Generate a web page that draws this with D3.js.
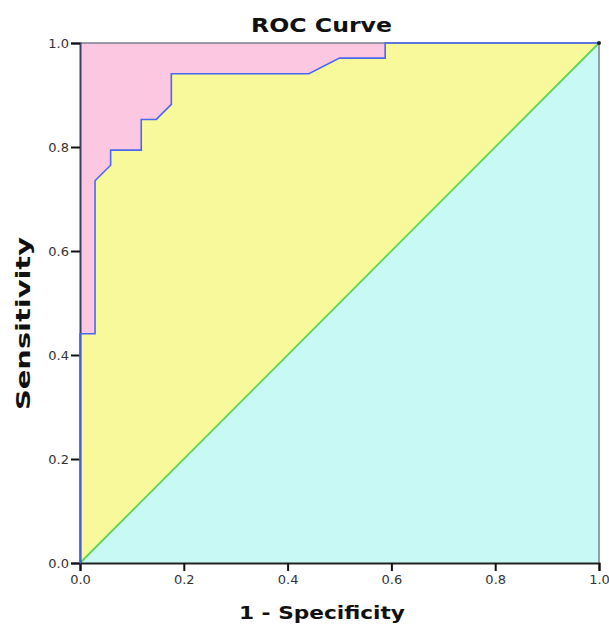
<!DOCTYPE html>
<html>
<head>
<meta charset="utf-8">
<script src="https://cdn.jsdelivr.net/npm/d3@7"></script>
<style>
body { margin:0; background:#fff; }
</style>
</head>
<body>
<div id="roc"></div>
<script>
// ROC curve steps (1 - specificity, sensitivity)
var fpr = [0, 0,     0.029, 0.029, 0.059, 0.059, 0.118, 0.118, 0.147, 0.176, 0.176, 0.441, 0.5,   0.588, 0.588, 1]
var tpr = [0, 0.441, 0.441, 0.735, 0.765, 0.794, 0.794, 0.853, 0.853, 0.882, 0.941, 0.941, 0.971, 0.971, 1,     1]
var diagX = [0, 1]
var diagY = [0, 1]
var tickVals = [0, 0.2, 0.4, 0.6, 0.8, 1.0]

var W = 609, H = 624
var margin = {top:43, right:10, bottom:61, left:80}
var width = W - margin.left - margin.right
var height = H - margin.top - margin.bottom

var svg = d3.select("#roc").append("svg")
    .attr("width", W).attr("height", H)

var g = svg.append("g")
    .attr("transform", "translate(" + margin.left + "," + margin.top + ")")

var x = d3.scaleLinear().domain([0, 1]).range([0, width])
var y = d3.scaleLinear().domain([0, 1]).range([height, 0])

var curve = fpr.map((v, i) => [v, tpr[i]])
var diag = diagX.map((v, i) => [v, diagY[i]])

// pink background = region above the curve
g.append("rect")
    .attr("x", x(0)).attr("y", y(1))
    .attr("width", x(1) - x(0)).attr("height", y(0) - y(1))
    .style("fill", "#fcc8e1")

// yellow under the curve
g.append("path").datum(curve)
    .attr("d", d3.area().x(d => x(d[0])).y0(y(0)).y1(d => y(d[1])))
    .style("fill", "#f8f99b")

// cyan under the reference line
g.append("path").datum(diag)
    .attr("d", d3.area().x(d => x(d[0])).y0(y(0)).y1(d => y(d[1])))
    .style("fill", "#c9f9f5")

// frame (top + right)
g.append("path")
    .attr("d", "M" + x(0) + "," + y(1) + "H" + x(1) + "V" + y(0))
    .style("fill", "none").style("stroke", "#7a7f90").style("stroke-width", 1.5)

// diagonal
g.append("path").datum(diag)
    .attr("d", d3.line().x(d => x(d[0])).y(d => y(d[1])))
    .style("fill", "none").style("stroke", "#5fd35a").style("stroke-width", 1.8)

// axes
var xAxis = g.append("g").attr("transform", "translate(0," + height + ")")
    .call(d3.axisBottom(x).tickValues(tickVals).tickFormat(d3.format(".1f")).tickSize(8).tickPadding(4))
var yAxis = g.append("g")
    .call(d3.axisLeft(y).tickValues(tickVals).tickFormat(d3.format(".1f")).tickSize(9).tickPadding(2))

g.selectAll(".domain").style("stroke", "#222").style("stroke-width", 2)
yAxis.select(".domain").style("stroke", "#3a3f66")
g.selectAll(".tick line").style("stroke", "#111").style("stroke-width", 2)
g.selectAll(".tick text")
    .style("font-family", "DejaVu Sans")
    .style("font-size", "13px")
    .style("fill", "#333")

// ROC curve
g.append("path").datum(curve)
    .attr("d", d3.line().x(d => x(d[0])).y(d => y(d[1])))
    .style("fill", "none").style("stroke", "#4a68ee").style("stroke-width", 1.6)

g.append("circle").attr("cx", x(1)).attr("cy", y(1)).attr("r", 2).style("fill", "#222")

// titles
svg.append("text")
    .attr("x", 251).attr("y", 32)
    .attr("textLength", 141).attr("lengthAdjust", "spacingAndGlyphs")
    .style("font-family", "DejaVu Sans").style("font-weight", "bold").style("font-size", "20px")
    .style("fill", "#111")
    .text("ROC Curve")

svg.append("text")
    .attr("x", 239).attr("y", 619)
    .attr("textLength", 166).attr("lengthAdjust", "spacingAndGlyphs")
    .style("font-family", "DejaVu Sans").style("font-weight", "bold").style("font-size", "18px")
    .style("fill", "#111")
    .text("1 - Specificity")

svg.append("text")
    .attr("transform", "translate(30,410) rotate(-90)")
    .attr("textLength", 173).attr("lengthAdjust", "spacingAndGlyphs")
    .style("font-family", "DejaVu Sans").style("font-weight", "bold").style("font-size", "19px")
    .style("fill", "#111")
    .text("Sensitivity")
</script>
</body>
</html>
